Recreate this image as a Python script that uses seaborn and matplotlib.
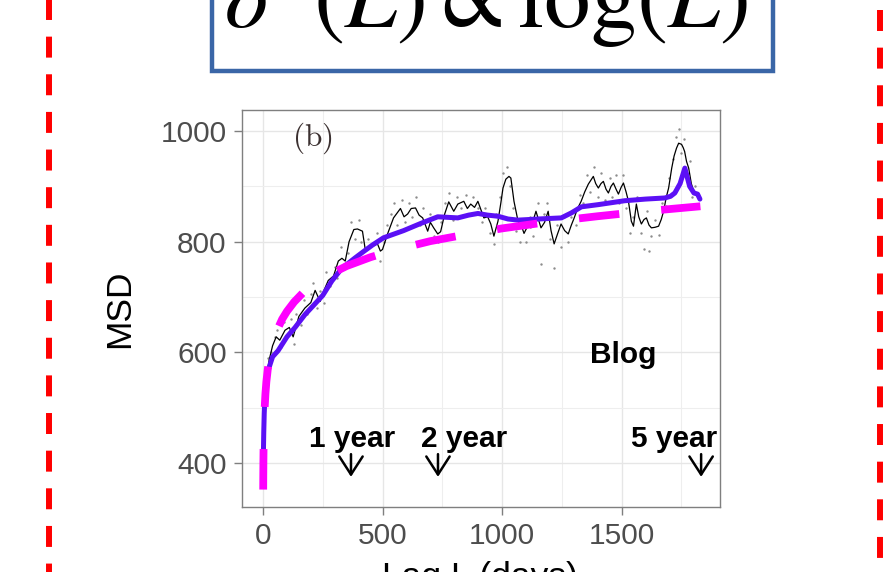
import matplotlib
matplotlib.use("Agg")
import matplotlib.pyplot as plt
import matplotlib.patches as mpatches
from matplotlib.ticker import MultipleLocator
import seaborn as sns
import pandas as pd

# ---------------- data ----------------
raw_lag = [20, 35, 48, 60, 75, 88, 100, 115, 130, 140, 160, 170, 185, 200, 210, 225, 240, 255, 265, 280,
           300, 310, 325, 340, 355, 370, 385, 400, 410, 425, 440, 460, 475, 490, 505, 520, 535, 550, 560, 580,
           595, 610, 625, 640, 655, 670, 685, 700, 715, 730, 745, 760, 780, 795, 810, 830, 850, 865, 880, 900,
           915, 930, 950, 965, 975, 990, 1005, 1020, 1035, 1045, 1060, 1075, 1090, 1100, 1115, 1130, 1150, 1163,
           1175, 1190, 1200, 1218, 1230, 1245, 1260, 1275, 1290, 1310, 1325, 1340, 1355, 1370, 1385, 1400, 1415,
           1430, 1450, 1460, 1475, 1490, 1505, 1520, 1535, 1550, 1565, 1580, 1592, 1605, 1617, 1625, 1640, 1655,
           1670, 1685, 1700, 1715, 1728, 1739, 1750, 1760, 1772, 1785, 1795, 1808, 1820]
raw_msd = [590, 600, 628, 640, 610, 655, 630, 660, 615, 670, 650, 695, 670, 705, 725, 680, 710, 690, 745, 720,
           755, 735, 790, 750, 780, 835, 805, 840, 800, 770, 805, 775, 815, 765, 800, 830, 850, 870, 830, 875,
           835, 870, 845, 880, 830, 860, 800, 850, 810, 800, 835, 870, 888, 840, 880, 860, 885, 850, 880, 860,
           835, 860, 815, 795, 850, 880, 925, 935, 900, 860, 820, 800, 840, 800, 845, 810, 870, 760,
           850, 870, 805, 753, 830, 790, 845, 800, 845, 830, 885, 870, 920, 890, 935, 880, 925,
           875, 915, 880, 920, 870, 920, 860, 815, 845, 880, 815, 787, 855, 783, 810, 840, 812,
           870, 865, 915, 950, 990, 1003, 960, 985, 925, 945, 880, 900, 860]

avg_lag = [2, 5, 12, 25, 40, 55, 70, 92, 110, 126, 150, 175, 200, 218, 239, 255, 273, 295, 315, 330, 344,
           360, 380, 395, 416, 428, 450, 479, 491, 500, 521, 546, 575, 590, 605, 620, 638, 653, 668, 689, 700,
           714, 731, 743, 760, 777, 798, 815, 840, 855, 869, 885, 899, 924, 940, 953, 966, 983, 995, 1004, 1016,
           1029, 1037, 1050, 1067, 1080, 1092, 1107, 1121, 1142, 1163, 1178, 1193, 1205, 1218, 1233, 1247, 1262,
           1277, 1290, 1302, 1316, 1331, 1346, 1361, 1382, 1392, 1403, 1414, 1424, 1435, 1445, 1456, 1466, 1477,
           1487, 1498, 1508, 1519, 1529, 1541, 1550, 1562, 1572, 1583, 1594, 1604, 1615, 1625, 1640, 1655, 1666,
           1676, 1687, 1697, 1710, 1720, 1730, 1739, 1751, 1758, 1764, 1772, 1781, 1792, 1802, 1815, 1823]
avg_msd = [430, 480, 540, 585, 612, 628, 622, 640, 645, 628, 665, 680, 690, 712, 692, 712, 730, 738, 765, 770, 765,
           800, 822, 823, 819, 785, 790, 796, 783, 786, 814, 843, 860, 845, 850, 860, 861, 848, 843, 819, 835,
           825, 814, 818, 850, 872, 855, 868, 873, 860, 868, 862, 873, 843, 845, 832, 810, 837, 870, 897, 913,
           918, 915, 873, 837, 830, 815, 828, 825, 855, 825, 835, 855, 820, 796, 815, 832, 820,
           814, 830, 843, 860, 873, 890, 904, 918, 905, 897, 905, 909, 895, 888, 900, 906, 895,
           886, 898, 906, 890, 873, 837, 828, 868, 845, 832, 840, 843, 830, 825, 826, 828, 840,
           855, 880, 897, 933, 955, 969, 978, 976, 970, 963, 945, 933, 905, 891, 885, 879]

smooth_lag = [1, 2, 3, 5, 8, 12, 21, 40, 63, 100, 134, 175, 218, 250, 288, 330, 386, 420, 458, 504, 588, 660,
              731, 815, 860, 899, 940, 983, 1025, 1067, 1110, 1151, 1200, 1248, 1290, 1332, 1403, 1513, 1600,
              1681, 1705, 1723, 1745, 1765, 1785, 1803, 1818, 1828]
smooth_msd = [395, 430, 455, 490, 520, 540, 567, 592, 603, 628, 645, 668, 688, 703, 729, 752, 771, 782, 794, 807,
              820, 833, 845, 843, 848, 851, 848, 846, 841, 839, 840, 841, 842, 843, 852, 863, 867, 874, 877,
              879, 882, 888, 905, 933, 900, 888, 886, 877]

fit_lag = [0.7, 1, 1.5, 2, 3, 4, 5, 7, 10, 14, 20, 27, 35, 45, 60, 80, 100, 130, 170, 220, 280, 350, 450, 550,
           700, 850, 1000, 1200, 1400, 1600, 1830]
fit_msd = [352, 375, 401, 420, 446, 465, 480, 501, 525, 547, 570, 589, 606, 622, 641, 660, 674, 691, 709, 726,
           741, 756, 772, 785, 801, 813, 824, 836, 846, 855, 864]

year_labels = ["1 year", "2 year", "5 year"]
year_label_x = [374, 842, 1722]
year_arrow_x = [368, 732, 1833]

x_ticks = [0, 500, 1000, 1500]
y_ticks = [400, 600, 800, 1000]

# ---------------- styling ----------------
sns.set_theme(style="white")
plt.rcParams["font.family"] = ["Liberation Sans", "DejaVu Sans"]
plt.rcParams["lines.scale_dashes"] = False
plt.rcParams["mathtext.fontset"] = "stix"

W, H = 893, 572
fig = plt.figure(figsize=(W / 100, H / 100), dpi=100)
fig.patch.set_facecolor("white")

# overlay axes in pixel coordinates (slide decorations)
ov = fig.add_axes([0, 0, 1, 1], zorder=0)
ov.set_xlim(0, W)
ov.set_ylim(H, 0)
ov.axis("off")
ov.plot([49, 49], [-6.1, 590], color="#FF0000", lw=4.3, linestyle=(0, (15.1, 12.0)), solid_capstyle="butt")
ov.plot([880, 880], [10, 590], color="#FF0000", lw=4.3, linestyle=(0, (15.1, 12.0)), solid_capstyle="butt")
ov.add_patch(mpatches.Rectangle((211.5, -40), 561.5, 111, fill=False, edgecolor="#3A66A7", lw=3.2))
ov.text(224, 28, r"$\delta^{2}(L)\propto\log(L)$", fontsize=67, va="baseline", ha="left", color="black")

# main chart
ax = fig.add_axes([242 / W, 1 - 507 / H, 478 / W, 397 / H], zorder=2)
ax.set_facecolor("white")

sns.scatterplot(x=raw_lag, y=raw_msd, ax=ax, s=3, color="#8c8c8c", linewidth=0, zorder=2)
sns.lineplot(x=avg_lag, y=avg_msd, ax=ax, color="black", lw=0.9, sort=False, estimator=None, zorder=3)
sns.lineplot(x=smooth_lag, y=smooth_msd, ax=ax, color="#5B10F5", lw=3.6, sort=False, estimator=None, zorder=4)
sns.lineplot(x=fit_lag, y=fit_msd, ax=ax, color="#FF00FF", lw=5.6, sort=False, estimator=None, zorder=5)
ax.lines[-1].set_linestyle((0, (29.2, 30.3)))
ax.lines[-1].set_dash_capstyle("butt")

ax.set_xlim(-88, 1912)
ax.set_ylim(320.5, 1038)
ax.set_xticks(x_ticks)
ax.set_yticks(y_ticks)
ax.xaxis.set_minor_locator(MultipleLocator(250))
ax.yaxis.set_minor_locator(MultipleLocator(100))
ax.grid(which="major", color="#E6E6E6", lw=1.0)
ax.grid(which="minor", color="#EEEEEE", lw=0.8)
ax.set_axisbelow(True)
for s in ax.spines.values():
    s.set_color("#7F7F7F")
    s.set_linewidth(1.0)
ax.tick_params(axis="both", which="major", length=6, width=1.0, color="#7F7F7F",
               labelsize=21.5, labelcolor="#4D4D4D", pad=5, left=True, bottom=True)
ax.tick_params(axis="both", which="minor", length=0)

ax.set_ylabel("MSD", fontsize=25.5, color="black", va="center", rotation_mode="anchor")
ax.yaxis.set_label_coords(-0.255, 0.5)
ax.set_xlabel("Lag L (days)", fontsize=25.5, color="black", va="baseline")
ax.xaxis.set_label_coords(0.498, -0.2015)

ax.text(123, 973, r"$\mathrm{(b)}$", fontsize=22.5, color="#3b3030", math_fontfamily="cm",
        ha="left", va="baseline", zorder=6)
ax.text(1508, 580, "Blog", fontsize=21.5, fontweight="bold", color="black", ha="center", va="baseline", zorder=6)
for lab, lx in zip(year_labels, year_label_x):
    ax.text(lx, 429, lab, fontsize=21.5, fontweight="bold", color="black", ha="center", va="baseline", zorder=6)
for axx in year_arrow_x:
    ax.annotate("", xy=(axx, 375), xytext=(axx, 416),
                arrowprops=dict(arrowstyle="->,head_length=0.65,head_width=0.42", lw=1.8,
                                color="black", mutation_scale=20, shrinkA=0, shrinkB=0), zorder=6)

fig.savefig("out.png", dpi=100)
